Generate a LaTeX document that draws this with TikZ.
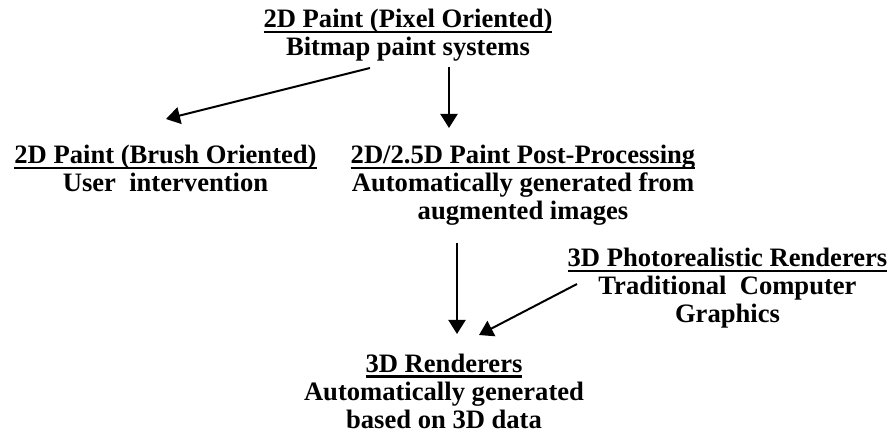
\documentclass[tikz,border=0pt]{standalone}
\usepackage{fontspec}
\setmainfont{Liberation Serif}
\usetikzlibrary{arrows.meta}
\newcommand\myul[1]{\setbox0\hbox{#1}\rlap{\rule[-5pt]{\wd0}{2.2pt}}\box0}
\begin{document}
\begin{tikzpicture}[x=1pt,y=-1pt,
  blk/.style={align=center, font=\fontsize{26.6}{28}\selectfont\bfseries, inner sep=0pt, anchor=base},
  arr/.style={line width=2pt, -{Triangle[length=14pt,width=17pt]}}]
\useasboundingbox (0,0) rectangle (894,435);
% base anchor = baseline of the last line
\node[blk] (A) at (408,56) {\myul{2D Paint (Pixel Oriented)}\\Bitmap paint systems};
\node[blk] (B) at (165.5,192) {\myul{2D Paint (Brush Oriented)}\\User~~intervention};
\node[blk] (C) at (523,220) {\myul{2D/2.5D Paint Post-Processing}\\Automatically generated from\\augmented images};
\node[blk] (D) at (727.5,323) {\myul{3D Photorealistic Renderers}\\Traditional~~Computer\\Graphics};
\node[blk] (E) at (444,428.5) {\myul{3D Renderers}\\Automatically generated\\based on 3D data};
\coordinate (a1s) at (370,68);  \coordinate (a1e) at (166,119);
\coordinate (a2s) at (449,67);  \coordinate (a2e) at (449,128);
\coordinate (a3s) at (457,243); \coordinate (a3e) at (457,334);
\coordinate (a4s) at (577,284); \coordinate (a4e) at (479,335);
\draw[arr] (a1s) -- (a1e);
\draw[arr] (a2s) -- (a2e);
\draw[arr] (a3s) -- (a3e);
\draw[arr] (a4s) -- (a4e);
\end{tikzpicture}
\end{document}
